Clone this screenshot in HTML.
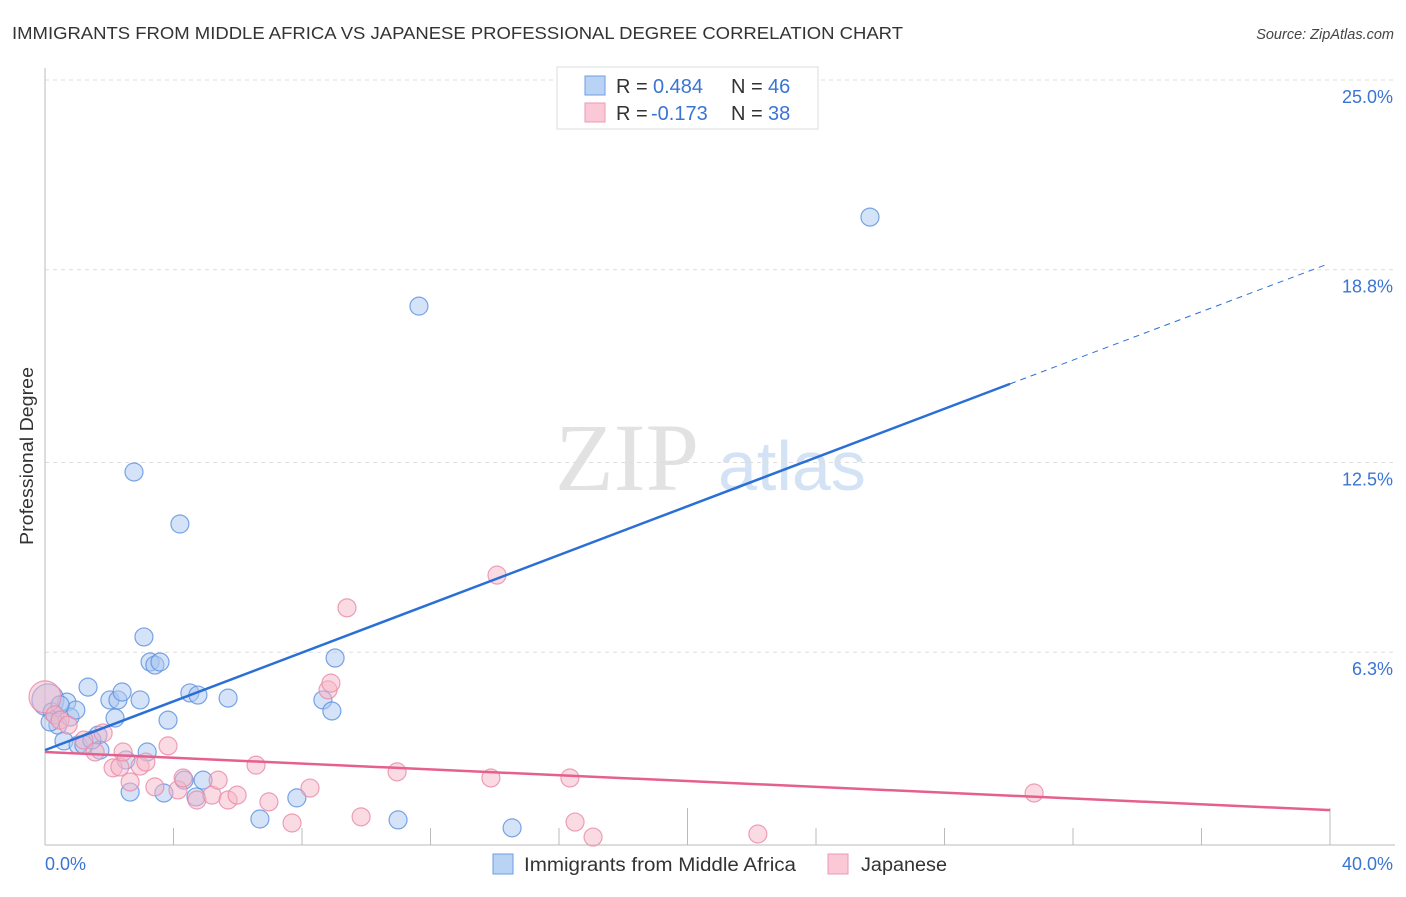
<!DOCTYPE html>
<html><head><meta charset="utf-8"><style>
body{margin:0;background:#fff;font-family:"Liberation Sans",sans-serif}
</style></head><body>
<svg id="chart" width="1406" height="892" viewBox="0 0 1406 892" xmlns="http://www.w3.org/2000/svg" font-family="Liberation Sans, sans-serif">
<text x="12" y="39" font-size="17.5" fill="#333" textLength="891" lengthAdjust="spacingAndGlyphs">IMMIGRANTS FROM MIDDLE AFRICA VS JAPANESE PROFESSIONAL DEGREE CORRELATION CHART</text>
<text x="1394" y="39" font-size="14.5" fill="#444" text-anchor="end" font-style="italic">Source: ZipAtlas.com</text>
<text transform="translate(33,456) rotate(-90)" font-size="18" fill="#333" text-anchor="middle" textLength="178" lengthAdjust="spacingAndGlyphs">Professional Degree</text>
<g>
<text x="555" y="490" font-family="Liberation Serif, serif" font-size="96" fill="#e2e2e2">ZIP</text>
<text x="718" y="490" font-size="70" fill="#d3e3f5">atlas</text>
</g>
<g id="grid"></g>
<g id="axes"></g>
<g id="pts"></g>
<g id="lines"></g>
<g>
<rect x="557" y="67" width="261" height="62" fill="#fff" stroke="#ddd"/>
<rect x="585" y="76" width="20" height="19" fill="#b9d3f5" stroke="#6f9ee0"/>
<rect x="585" y="103" width="20" height="19" fill="#fac8d7" stroke="#ee9ab5"/>
<text x="616" y="93" font-size="20" fill="#333">R =</text>
<text x="653" y="93" font-size="20" fill="#3a74d4">0.484</text>
<text x="731" y="93" font-size="20" fill="#333">N =</text>
<text x="768" y="93" font-size="20" fill="#3a74d4">46</text>
<text x="616" y="120" font-size="20" fill="#333">R =</text>
<text x="651" y="120" font-size="20" fill="#3a74d4">-0.173</text>
<text x="731" y="120" font-size="20" fill="#333">N =</text>
<text x="768" y="120" font-size="20" fill="#3a74d4">38</text>
</g>
<g>
<rect x="493" y="854" width="20" height="20" fill="#b9d3f5" stroke="#6f9ee0"/>
<text x="524" y="871" font-size="19" fill="#333" textLength="272" lengthAdjust="spacingAndGlyphs">Immigrants from Middle Africa</text>
<rect x="828" y="854" width="20" height="20" fill="#fac8d7" stroke="#ee9ab5"/>
<text x="861" y="871" font-size="19" fill="#333" textLength="86" lengthAdjust="spacingAndGlyphs">Japanese</text>
</g>
</svg>
<script>
const yTicks=[25.0,18.8,12.5,6.3];
const yTickLabels=["25.0%","18.8%","12.5%","6.3%"];
const xTicks=[0,4,8,12,16,20,24,28,32,36,40];
const xLabels=["0.0%","40.0%"];
const blueX=[0.09,0.22,0.40,0.68,0.78,0.96,0.59,1.03,1.34,1.65,1.71,2.02,2.18,2.27,2.40,2.52,2.65,2.77,2.96,3.08,3.18,3.27,3.42,3.58,3.70,3.83,4.20,4.33,4.51,4.76,4.92,5.70,6.69,7.84,8.65,8.93,9.03,10.99,11.64,14.54,25.68,4.70,1.21,1.46,0.16,0.47];
const blueY=[4.74,4.35,3.92,4.67,4.18,4.41,3.40,3.27,5.16,3.59,3.10,4.74,4.15,4.74,5.00,2.78,1.73,12.19,4.74,6.80,3.04,5.98,5.88,5.98,1.70,4.08,10.49,2.12,4.97,4.90,2.12,4.80,0.85,1.54,4.74,4.38,6.11,0.82,17.61,0.56,20.52,1.57,3.27,3.43,4.02,4.58];
const pinkX=[0,0.31,0.47,0.72,1.21,1.56,1.81,2.12,2.33,2.43,2.65,2.96,3.14,3.42,3.83,4.14,4.30,4.73,5.20,5.39,5.70,5.98,6.57,6.97,7.69,8.25,8.81,8.90,9.40,9.84,10.96,13.88,14.07,16.34,16.50,17.06,22.19,30.79];
const pinkY=[4.84,4.25,4.08,3.92,3.43,3.04,3.66,2.52,2.55,3.04,2.06,2.58,2.71,1.90,3.24,1.80,2.19,1.47,1.63,2.12,1.47,1.63,2.61,1.41,0.72,1.86,5.07,5.29,7.75,0.92,2.39,2.19,8.82,2.19,0.75,0.26,0.36,1.70];
const blueTrend=[[0,3.10],[30.04,15.07],[39.84,18.95]];
const pinkTrend=[[0,3.04],[40,1.14]];
const NS="http://www.w3.org/2000/svg";
const X=v=>45+v*32.125, Y=v=>845-v*30.6;
function mk(tag,attrs,parent){const e=document.createElementNS(NS,tag);for(const k in attrs)e.setAttribute(k,attrs[k]);parent.appendChild(e);return e;}
const grid=document.getElementById('grid'),axes=document.getElementById('axes'),pts=document.getElementById('pts'),lines=document.getElementById('lines');
yTicks.forEach((t,i)=>{
 const l=mk('line',{x1:45,x2:1395,y1:Y(t),y2:Y(t),stroke:'#ddd','stroke-dasharray':'4,4'},grid);
 
 
 const tx=mk('text',{x:1393,y:Y(t)+23,'font-size':18,fill:'#3a74d4','text-anchor':'end'},grid);
 tx.textContent=yTickLabels[i];
 
 
});
const ya=mk('line',{x1:45,x2:45,y1:68,y2:845,stroke:'#bbb'},axes);


const xa=mk('line',{x1:45,x2:1395,y1:845,y2:845,stroke:'#bbb'},axes);


xTicks.forEach((t,i)=>{
 if(i===0)return;
 const tall=(t===20||t===40);
 const tk=mk('line',{x1:X(t),x2:X(t),y1:tall?808:828,y2:845,stroke:'#bbb'},axes);
 
 
});
[[0,'start',45],[40,'end',1393]].forEach((d,i)=>{
 const tx=mk('text',{x:d[2],y:870,'font-size':18,fill:'#3a74d4','text-anchor':d[1]},axes);
 tx.textContent=xLabels[i];
 
 
});
function dots(xs,ys,fill,stroke,name){
 xs.forEach((x,i)=>{
  const big=(i===0);
  const c=mk('circle',{cx:X(x),cy:Y(ys[i]),r:big?16:9,fill:fill,'fill-opacity':0.5,stroke:stroke,'stroke-width':1.2,'stroke-opacity':0.8},pts);
  
  
 });
}
dots(blueX,blueY,'#a9c8f0','#5b8ee0','blue-point');
dots(pinkX,pinkY,'#f5b6c8','#e88aa8','pink-point');
const b1=mk('line',{x1:X(blueTrend[0][0]),y1:Y(blueTrend[0][1]),x2:X(blueTrend[1][0]),y2:Y(blueTrend[1][1]),stroke:'#2a6fd6','stroke-width':2.5},lines);


const b2=mk('line',{x1:X(blueTrend[1][0]),y1:Y(blueTrend[1][1]),x2:X(blueTrend[2][0]),y2:Y(blueTrend[2][1]),stroke:'#2a6fd6','stroke-width':1,'stroke-dasharray':'6,5'},lines);


const p1=mk('line',{x1:X(pinkTrend[0][0]),y1:Y(pinkTrend[0][1]),x2:X(pinkTrend[1][0]),y2:Y(pinkTrend[1][1]),stroke:'#e5608e','stroke-width':2.5},lines);


</script>
</body></html>
